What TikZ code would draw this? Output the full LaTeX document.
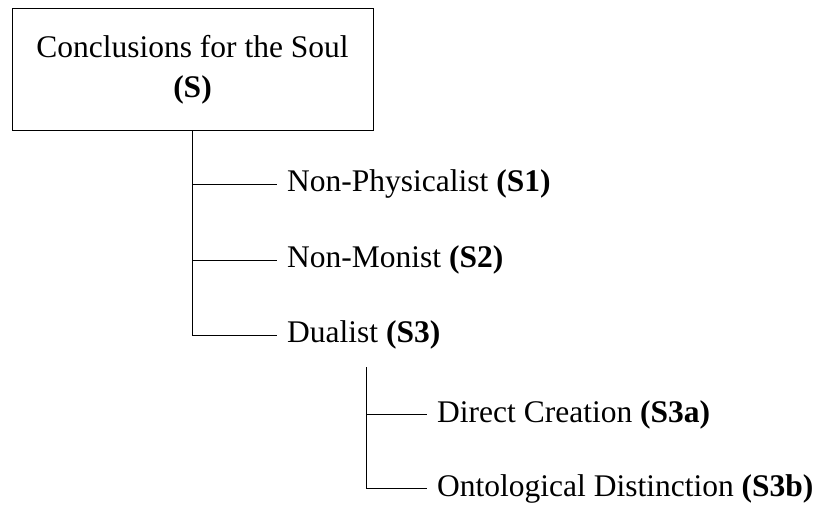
\documentclass[tikz,border=0pt]{standalone}
\usepackage{fontspec}
\setmainfont{Liberation Serif}
\usepackage{tikz}
\usetikzlibrary{positioning, calc}

\tikzset{
  rootbox/.style={draw, line width=1pt, minimum width=361pt, minimum height=122pt,
    align=center, font=\fontsize{31.5}{40}\selectfont},
  leaf/.style={anchor=west, inner xsep=10pt, inner ysep=2pt, text height=23pt,
    text depth=7pt, font=\fontsize{31.5}{37}\selectfont},
  branch/.style={line width=0.9pt}
}

\begin{document}
\begin{tikzpicture}[x=1pt, y=-1pt]
    \useasboundingbox (0,0) rectangle (820,505);
    % Root
    \node[rootbox] (soul) at (192.5, 70) {Conclusions for the Soul\\ \textbf{(S)}};
    % First level
    \node[leaf] (s1) at (277, 184) {Non-Physicalist \textbf{(S1)}};
    \node[leaf] (s2) at (277, 260) {Non-Monist \textbf{(S2)}};
    \node[leaf] (s3) at (277, 335) {Dualist \textbf{(S3)}};
    % Second level
    \node[leaf] (s3a) at (427, 414) {Direct Creation \textbf{(S3a)}};
    \node[leaf] (s3b) at (427, 488) {Ontological Distinction \textbf{(S3b)}};
    % Connectors
    \draw[branch] (soul.south) |- (s3.west);
    \draw[branch] (soul.south |- s1.west) -- (s1.west);
    \draw[branch] (soul.south |- s2.west) -- (s2.west);
    \coordinate (s3root) at ($(s3.south)+(2.5,15)$);
    \draw[branch] (s3root) |- (s3b.west);
    \draw[branch] (s3root |- s3a.west) -- (s3a.west);
  \end{tikzpicture}
\end{document}
